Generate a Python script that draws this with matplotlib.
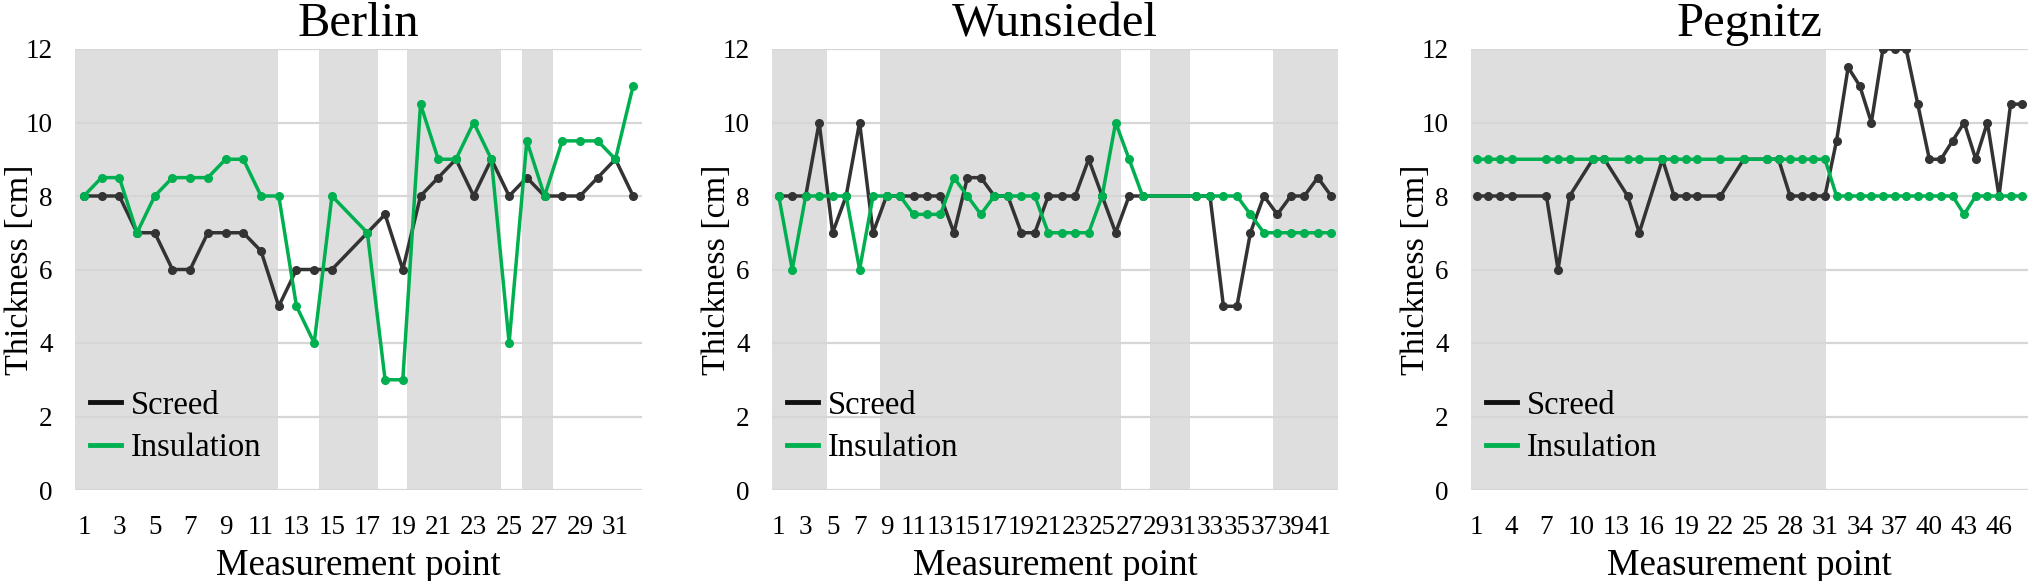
import numpy as np
import matplotlib
matplotlib.use("Agg")
import matplotlib.pyplot as plt
from matplotlib.lines import Line2D

plt.rcParams['font.family'] = ['Liberation Serif', 'DejaVu Serif']

nan = np.nan

# ---- data (cm), NaN = no measurement at that point ----
berlin_screed = [8, 8, 8, 7, 7, 6, 6, 7, 7, 7, 6.5, 5, 6, 6, 6, nan, 7, 7.5, 6, 8,
                 8.5, 9, 8, 9, 8, 8.5, 8, 8, 8, 8.5, 9, 8]
berlin_insul = [8, 8.5, 8.5, 7, 8, 8.5, 8.5, 8.5, 9, 9, 8, 8, 5, 4, 8, nan, 7, 3, 3, 10.5,
                9, 9, 10, 9, 4, 9.5, 8, 9.5, 9.5, 9.5, 9, 11]
berlin_shade = [(0.5, 11.94), (14.28, 17.59), (19.26, 24.57), (25.7, 27.46)]

wuns_screed = [8, 8, 8, 10, 7, 8, 10, 7, 8, 8, 8, 8, 8, 7, 8.5, 8.5, 8, 8, 7, 7,
               8, 8, 8, 9, 8, 7, 8, 8, nan, nan, nan, 8, 8, 5, 5, 7, 8, 7.5, 8, 8,
               8.5, 8]
wuns_insul = [8, 6, 8, 8, 8, 8, 6, 8, 8, 8, 7.5, 7.5, 7.5, 8.5, 8, 7.5, 8, 8, 8, 8,
              7, 7, 7, 7, 8, 10, 9, 8, nan, nan, nan, 8, 8, 8, 8, 7.5, 7, 7, 7, 7,
              7, 7]
wuns_shade = [(0.5, 4.55), (8.5, 26.4), (28.57, 31.53), (37.67, 42.5)]

peg_screed = [8, 8, 8, 8, nan, nan, 8, 6, 8, nan, 9, 9, nan, 8, 7, nan, 9, 8, 8, 8,
              nan, 8, nan, 9, nan, 9, 9, 8, 8, 8, 8, 9.5, 11.5, 11, 10, 12, 12, 12, 10.5, 9,
              9, 9.5, 10, 9, 10, 8, 10.5, 10.5]
peg_insul = [9, 9, 9, 9, nan, nan, 9, 9, 9, nan, 9, 9, nan, 9, 9, nan, 9, 9, 9, 9,
             nan, 9, nan, 9, nan, 9, 9, 9, 9, 9, 9, 8, 8, 8, 8, 8, 8, 8, 8, 8,
             8, 8, 7.5, 8, 8, 8, 8, 8]
peg_shade = [(0.5, 31.1)]

panels = [
    ("Berlin", berlin_screed, berlin_insul, berlin_shade, 2, [75, 642]),
    ("Wunsiedel", wuns_screed, wuns_insul, wuns_shade, 2, [772, 1338]),
    ("Pegnitz", peg_screed, peg_insul, peg_shade, 3, [1471, 2028]),
]

BLACK = '#333333'
GREEN = '#00b050'
SHADE = '#dedede'
GRID = '#d6d6d6'

W, H = 2028, 581
fig = plt.figure(figsize=(W / 100, H / 100), dpi=100)

top_px, bot_px = 49, 490
for title, screed, insul, shade, step, (x0, x1) in panels:
    ax = fig.add_axes([x0 / W, 1 - bot_px / H, (x1 - x0) / W, (bot_px - top_px) / H])
    n = len(screed)
    x = np.arange(1, n + 1)
    for a, b in shade:
        ax.axvspan(a, b, color=SHADE, lw=0, zorder=0.2)
    for y, c in ((screed, BLACK), (insul, GREEN)):
        y = np.asarray(y, dtype=float)
        ok = ~np.isnan(y)
        ax.plot(x[ok], y[ok], color=c, lw=2.5, marker='o', ms=5.5, zorder=3)

    ax.set_xlim(0.5, n + 0.5)
    ax.set_ylim(0, 12)
    ax.set_yticks(range(0, 13, 2))
    ax.set_xticks(range(1, n + 1, step))
    ax.tick_params(length=0, labelsize=19.5)
    ax.tick_params(axis='x', pad=18)
    ax.tick_params(axis='y', pad=16)
    ax.set_axisbelow(True)
    ax.yaxis.grid(True, color=GRID, lw=1.6)
    for s in ax.spines.values():
        s.set_visible(False)

    ax.set_title(title, fontsize=35, pad=9)
    ax.set_xlabel("Measurement point", fontsize=26.5)
    ax.set_ylabel("Thickness [cm]", fontsize=24.5)
    ax.xaxis.set_label_coords(0.5, -0.132)
    ax.yaxis.set_label_coords(-0.071, 0.5)
    ax.xaxis.label.set_va('top')

    handles = [Line2D([], [], color='#111111', lw=3.5),
               Line2D([], [], color=GREEN, lw=3.5)]
    ax.legend(handles, ["Screed", "Insulation"], loc='center left',
              bbox_to_anchor=(0.027, 0.143), frameon=False, fontsize=23.5,
              borderpad=0, borderaxespad=0,
              handlelength=0.95, handletextpad=0.3, labelspacing=0.37)

fig.savefig("out.png", dpi=100)
